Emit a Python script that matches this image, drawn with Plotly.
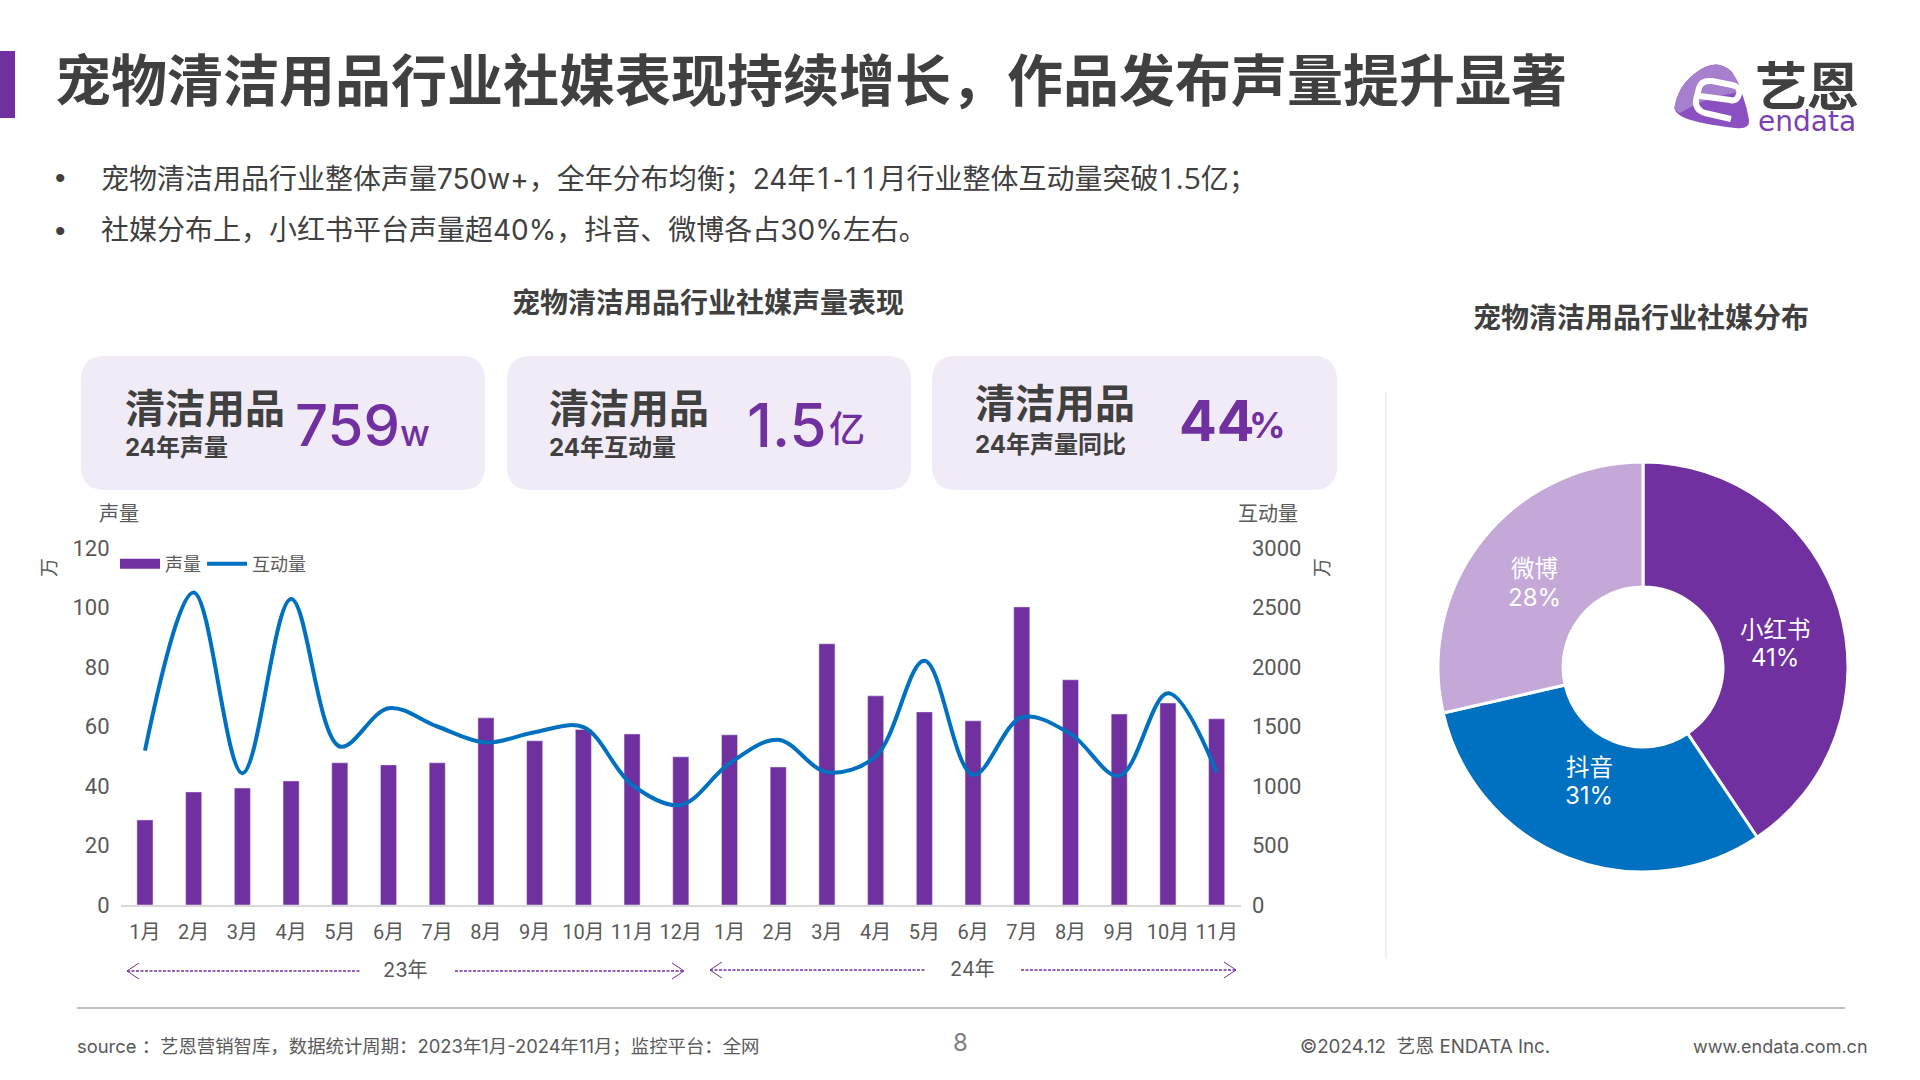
import re
import plotly.graph_objects as go

months = ["1月","2月","3月","4月","5月","6月","7月","8月","9月","10月","11月","12月",
          "1月","2月","3月","4月","5月","6月","7月","8月","9月","10月","11月"]
volume = [28.6,38,39.3,41.7,47.8,47.1,47.8,62.9,55.2,59,57.5,49.8,
          57.2,46.4,87.8,70.3,64.9,61.9,100.2,75.7,64.2,67.9,62.6]
interaction = [1298,2627,1107,2571,1332,1654,1500,1365,1452,1494,1010,841,
               1190,1388,1116,1248,2052,1093,1578,1438,1085,1780,1113]
platforms = ["小红书","抖音","微博"]
shares = [40.6,30.8,28.6]
share_labels = ["41%","31%","28%"]
platform_colors = ["#7030A0","#0070C0","#C3A8D8"]

FONT = "Inter, 'Noto Sans CJK SC'"
TICK = "Roboto, 'Noto Sans CJK SC'"
PURPLE = "#7030A0"
DARK = "#404040"
GREY = "#595959"
W, H = 1920, 1080
X = lambda p: p / W
Y = lambda p: 1 - p / H


def pth(s):
    parts = re.findall(r"[A-Za-z]|-?\d+\.?\d*", s)
    out, isx = [], True
    for t in parts:
        if t.isalpha():
            out.append(t)
            isx = True
        else:
            v = float(t)
            out.append(f"{X(v):.5f}" if isx else f"{Y(v):.5f}")
            isx = not isx
    return " ".join(out)


def rrect(x0, y0, x1, y1, r):
    return (f"M {x0+r} {y0} L {x1-r} {y0} Q {x1} {y0} {x1} {y0+r} L {x1} {y1-r} Q {x1} {y1} {x1-r} {y1} "
            f"L {x0+r} {y1} Q {x0} {y1} {x0} {y1-r} L {x0} {y0+r} Q {x0} {y0} {x0+r} {y0} Z")


shapes, annos = [], []


def path(s, fill=None, line=None, width=0, dash="solid"):
    shapes.append(dict(type="path", xref="paper", yref="paper", path=pth(s),
                       fillcolor=fill or "rgba(0,0,0,0)",
                       line=dict(color=line or "rgba(0,0,0,0)", width=width, dash=dash)))


def text(t, x, y, size, color=DARK, anchor="left", weight=400, angle=0, family=FONT):
    annos.append(dict(text=t, x=X(x), y=Y(y), xref="paper", yref="paper", showarrow=False,
                      xanchor=anchor, yanchor="middle", textangle=angle, borderpad=0,
                      font=dict(family=family, size=size, color=color, weight=weight)))


WIDE = "<span style=\"font-family:'Open Sans';font-size:{}px\">{}</span>"

# page furniture
path("M 0 51 L 15 51 L 15 118 L 0 118 Z", fill=PURPLE)
text("宠物清洁用品行业社媒表现持续增长，作品发布声量提升显著", 54, 81, 56, weight=700)
text("•", 60, 178, 30, anchor="center", family="Liberation Sans")
text("•", 60, 230, 30, anchor="center", family="Liberation Sans")
text("宠物清洁用品行业整体声量750w+，全年分布均衡；24年" + WIDE.format(31, "1-11") + "月行业整体互动量突破"
     + WIDE.format(30, "1.5") + "亿；", 100, 177, 28)
text("社媒分布上，小红书平台声量超40%，抖音、微博各占30%左右。", 100, 230, 28)
text("宠物清洁用品行业社媒声量表现", 708, 303, 28, anchor="center", weight=700)
text("宠物清洁用品行业社媒分布", 1641, 318, 28, anchor="center", weight=700)

# KPI cards
for x0, x1 in [(81, 485), (507, 911), (932, 1337)]:
    path(rrect(x0, 356, x1, 490, 24), fill="#F1EBF7")
text("清洁用品", 124, 408, 40, weight=700)
text("24年声量", 124, 448, 24, weight=700)
text("759", 294, 425, 58, color=PURPLE, weight=500)
text("w", 399, 433, 36, color=PURPLE, weight=500)
text("清洁用品", 548, 408, 40, weight=700)
text("24年互动量", 548, 448, 24, weight=700)
text("1.5", 746, 425, 60, color=PURPLE, weight=500)
text("亿", 828, 429, 36, color=PURPLE, weight=500)
text("清洁用品", 974, 404, 40, weight=700)
text("24年声量同比", 974, 444, 24, weight=700)
text("44", 1178, 421, 56, color=PURPLE, weight=700)
text("%", 1248, 425, 36, color=PURPLE, weight=700)

# axis captions
text("声量", 119, 514, 20, anchor="center", color=GREY)
text("互动量", 1268, 514, 20, anchor="center", color=GREY)
text("万", 49, 568, 19, anchor="center", color=GREY, angle=-90)
text("万", 1322, 568, 19, anchor="center", color=GREY, angle=-90)

# year brackets
for a, b, c, d, y, lab, lx in [(127, 361, 455, 684, 971, "23年", 405), (710, 926, 1021, 1236, 970, "24年", 972)]:
    path(f"M {a} {y} L {b} {y}", line=PURPLE, width=1.5, dash="3px,1.5px")
    path(f"M {c} {y} L {d} {y}", line=PURPLE, width=1.5, dash="3px,1.5px")
    path(f"M {a+12} {y-8} L {a} {y} L {a+12} {y+8}", line=PURPLE, width=1)
    path(f"M {d-12} {y-8} L {d} {y} L {d-12} {y+8}", line=PURPLE, width=1)
    text(lab, lx, y - 1, 20, anchor="center", color=GREY)

# separators
path("M 1386 392 L 1386 959", line="#EDEDED", width=1.5)
path("M 77 1008 L 1845 1008", line="#BFBFBF", width=2)

# footer
text("source ：艺恩营销智库，数据统计周期：2023年1月-2024年11月；监控平台：全网", 76, 1046, 18.4, color=GREY)
text("8", 960, 1042, 24, anchor="center", color="#7F7F7F")
text("©2024.12  艺恩 ENDATA Inc.", 1299, 1046, 18.8, color=GREY)
text("www.endata.com.cn", 1692, 1046, 18, color=GREY)

# logo
path("M 1675 105 Q 1680 80 1705 67 Q 1720 60 1732 72 Q 1745 95 1749 120 Q 1750 130 1735 128 "
     "Q 1700 124 1685 118 Q 1672 112 1675 105 Z", fill="#8A4FC0")
path("M 1675 105 Q 1680 80 1705 67 Q 1720 60 1732 72 Q 1740 84 1742 92 Q 1710 95 1680 113 Q 1673 110 1675 105 Z",
     fill="#A67FCF")
path("M 1731 119 L 1705 113 Q 1695 110 1696 100 L 1699 88 Q 1701 80 1712 81 L 1732 85 Q 1741 87 1739 94 "
     "Q 1737 102 1730 100 L 1700 96", line="#FFFFFF", width=6)
text("艺恩", 1807, 87, 52, anchor="center", weight=700)
text("endata", 1807, 122, 28, anchor="center", color="#7B3FB5", family="DejaVu Sans")

# donut labels
pie_label_pos = [(1775, 629, 657), (1589, 767, 795), (1534, 568, 597)]
for name, lab, (lx, ly1, ly2) in zip(platforms, share_labels, pie_label_pos):
    text(name, lx, ly1, 23.5, color="#FFFFFF", anchor="center")
    text(lab, lx, ly2, 24, color="#FFFFFF", anchor="center")

fig = go.Figure()
idx = list(range(len(months)))
fig.add_trace(go.Bar(x=idx, y=volume, name="声量", marker=dict(color=PURPLE), showlegend=False, yaxis="y"))
fig.add_trace(go.Scatter(x=[None], y=[None], name="声量", mode="lines", line=dict(color=PURPLE, width=13),
                         yaxis="y", legend="legend"))
fig.add_trace(go.Scatter(x=idx, y=interaction, name="互动量", mode="lines",
                         line=dict(color="#0070C0", width=4, shape="spline", smoothing=1), yaxis="y2",
                         showlegend=True, legend="legend2"))
fig.add_trace(go.Pie(labels=platforms, values=shares, sort=False, direction="clockwise", rotation=0,
                     hole=0.39, marker=dict(colors=platform_colors, line=dict(color="#FFFFFF", width=3)),
                     textinfo="none", showlegend=False,
                     domain=dict(x=[X(1643 - 205), X(1643 + 205)], y=[Y(667 + 205), Y(667 - 205)])))

legend_common = dict(orientation="h", yanchor="middle", font=dict(family=TICK, size=18, color=GREY), itemwidth=40,
                     bgcolor="rgba(0,0,0,0)", xanchor="left", y=Y(564))
fig.update_layout(
    width=W, height=H, margin=dict(l=0, r=0, t=0, b=0), autosize=False,
    paper_bgcolor="#FFFFFF", plot_bgcolor="#FFFFFF",
    font=dict(family=FONT, color=GREY), bargap=0.67, shapes=shapes, annotations=annos,
    xaxis=dict(domain=[X(120.6), X(1241)], range=[-0.5, 22.5], tickmode="array", tickvals=idx, ticktext=months,
               showgrid=False, zeroline=False, showline=True, linecolor="#D9D9D9", linewidth=2,
               tickfont=dict(family=TICK, size=20, color=GREY), tickangle=0, ticklabelstandoff=8, automargin=False),
    yaxis=dict(domain=[Y(905), Y(548)], range=[0, 120], dtick=20, showgrid=False, zeroline=False,
               tickfont=dict(family=TICK, size=22, color=GREY), ticklabelstandoff=10, automargin=False),
    yaxis2=dict(overlaying="y", side="right", range=[0, 3000], dtick=500, showgrid=False, zeroline=False,
                tickfont=dict(family=TICK, size=22, color=GREY), ticklabelstandoff=10, automargin=False),
    legend=dict(x=X(115), **legend_common),
    legend2=dict(x=X(202), **legend_common),
)

fig.write_html("out.html", config=dict(displayModeBar=False),
               post_script="document.body.style.margin='0';document.body.style.overflow='hidden';")
